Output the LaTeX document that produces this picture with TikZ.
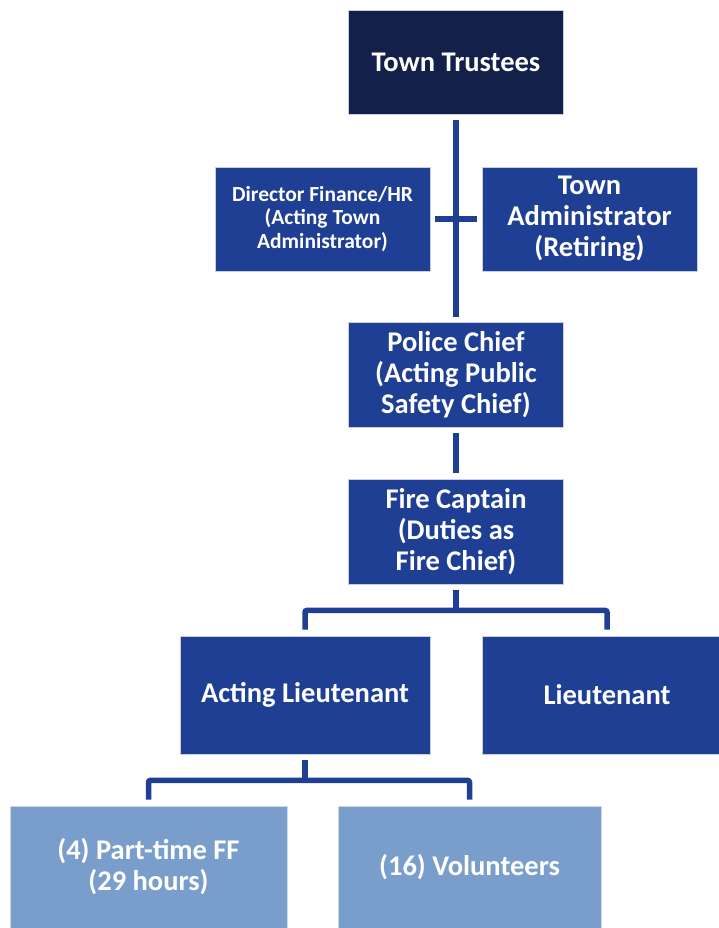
\documentclass[tikz,border=0pt]{standalone}
\usepackage{fontspec}
\setmainfont{Carlito}
\usepackage{xcolor}
\definecolor{navy}{RGB}{18,32,74}
\definecolor{midblue}{RGB}{31,63,148}
\definecolor{paleblue}{RGB}{121,158,204}
\tikzset{
    post/.style={rectangle, fill=midblue, draw=white!75!midblue, line width=0.7pt, text=white,
        font=\bfseries\fontsize{28.5}{31}\selectfont, align=center, inner sep=0pt},
    smalltext/.style={font=\bfseries\fontsize{21.5}{23.7}\selectfont},
    link/.style={draw=midblue, line width=5.5pt, rounded corners=2pt}
}
\begin{document}
\begin{tikzpicture}[x=1pt, y=-1pt]
    \useasboundingbox (0,0) rectangle (718,928);

    \node [post, fill=navy, minimum width=215pt, minimum height=104pt] (trust) at (456,62) {Town Trustees};
    \node [post, smalltext, minimum width=215pt, minimum height=104pt] (dirfin) at (322.5,219) {Director Finance/HR\\(Acting Town\\Administrator)};
    \node [post, minimum width=215pt, minimum height=104pt] (townadm) at (589.5,219) {Town\\Administrator\\(Retiring)};
    \node [post, minimum width=215pt, minimum height=105pt] (police) at (456,374.5) {Police Chief\\(Acting Public\\Safety Chief)};
    \node [post, minimum width=215pt, minimum height=105pt] (firecap) at (456,531.5) {Fire Captain\\(Duties as\\Fire Chief)};
    \node [post, minimum width=250pt, minimum height=118pt] (actlt) at (305,695) {Acting Lieutenant};
    \node [post, minimum width=250pt, minimum height=118pt] (lt) at (607,695) {Lieutenant};
    \node [post, fill=paleblue, draw=white!60!paleblue, minimum width=277pt, minimum height=122pt] (parttime) at (148.5,867) {(4) Part-time FF\\(29 hours)};
    \node [post, fill=paleblue, draw=white!60!paleblue, minimum width=263pt, minimum height=122pt] (volun) at (469.5,867) {(16) Volunteers};

    \draw [link] ([yshift=-6pt]trust.south) -- ([yshift=5pt]police.north);
    \draw [link] ([xshift=5pt]dirfin.east) -- ([xshift=-5pt]townadm.west);
    \draw [link] ([yshift=-6pt]police.south) -- ([yshift=6pt]firecap.north);

    \draw [link] ([yshift=-6pt]firecap.south) -- ++(0,20) coordinate (fcjoin);
    \draw [link] ([yshift=6pt]actlt.north) |- (fcjoin) -| ([yshift=6pt]lt.north);

    \draw [link] ([yshift=-6pt]actlt.south) -- ++(0,20) coordinate (ltjoin);
    \draw [link] ([yshift=6pt]parttime.north) |- (ltjoin) -| ([yshift=6pt]volun.north);

\end{tikzpicture}
\end{document}
